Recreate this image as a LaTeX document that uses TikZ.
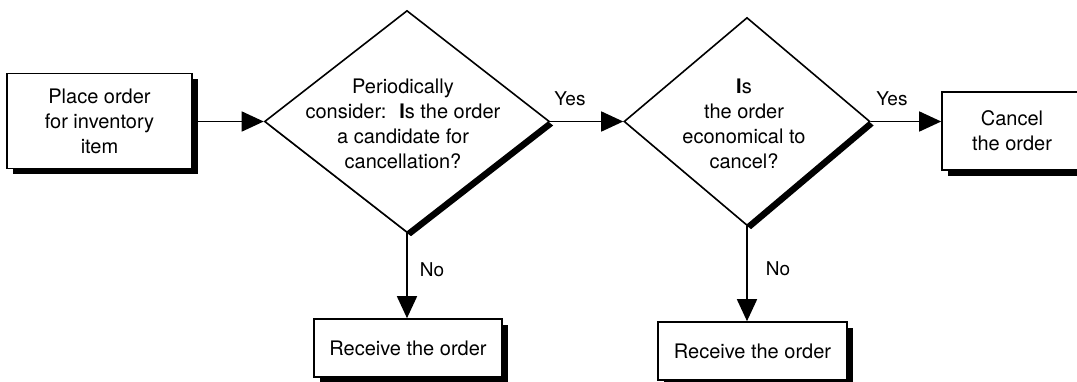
\documentclass[tikz,border=0pt]{standalone}
\usepackage{fontspec}
\setmainfont{TeX Gyre Heros}
\usetikzlibrary{arrows.meta,shadows,shapes.geometric}
\begin{document}
\begin{tikzpicture}[x=1pt,y=-1pt,line width=1.6pt,
  every node/.style={font=\fontsize{20}{25}\selectfont},
  box/.style={draw,fill=white,align=center,inner sep=0pt,
    drop shadow={shadow xshift=5.5pt,shadow yshift=-5.5pt,opacity=1,fill=black}},
  decision/.style={draw,diamond,fill=white,inner sep=0pt,
    drop shadow={shadow xshift=4pt,shadow yshift=-4pt,opacity=1,fill=black}},
  answer/.style={font=\fontsize{19}{23}\selectfont},
  >={Triangle[length=22pt,width=20pt]}]
\useasboundingbox (0,0) rectangle (1077,381);
\node[box,minimum width=185pt,minimum height=95pt] (place) at (99.5,121) {Place order\\for inventory\\item};
\node[decision,minimum width=285pt,minimum height=222pt] (d1) at (407,121.5) {};
\node[align=center] (d1text) at (403,124) {Periodically\\consider:~ \textbf{I}s the order\\a candidate for\\cancellation?};
\node[box,minimum width=188pt,minimum height=58pt] (recv1) at (408,348) {Receive the order};
\node[decision,minimum width=246pt,minimum height=208pt] (d2) at (747,121.5) {};
\node[align=center] (d2text) at (744,124) {\textbf{I}s\\the order\\economical to\\cancel?};
\node[box,minimum width=189pt,minimum height=58pt] (recv2) at (752.5,351) {Receive the order};
\node[box,minimum width=140pt,minimum height=78pt] (cancel) at (1012,131) {Cancel\\the order};
\node[answer] (yes1) at (570,99) {Yes};
\node[answer] (yes2) at (892,99) {Yes};
\node[answer] (no1) at (432,270) {No};
\node[answer] (no2) at (778,269) {No};
\draw[->] (place.east |- d1.west) -- (d1.west);
\draw[->] (d1.east) -- (d2.west);
\draw[->] (d2.east) -- (d2.east -| cancel.west);
\draw[->] (d1.south) -- (d1.south |- recv1.north);
\draw[->] (d2.south) -- (d2.south |- recv2.north);
\end{tikzpicture}
\end{document}
